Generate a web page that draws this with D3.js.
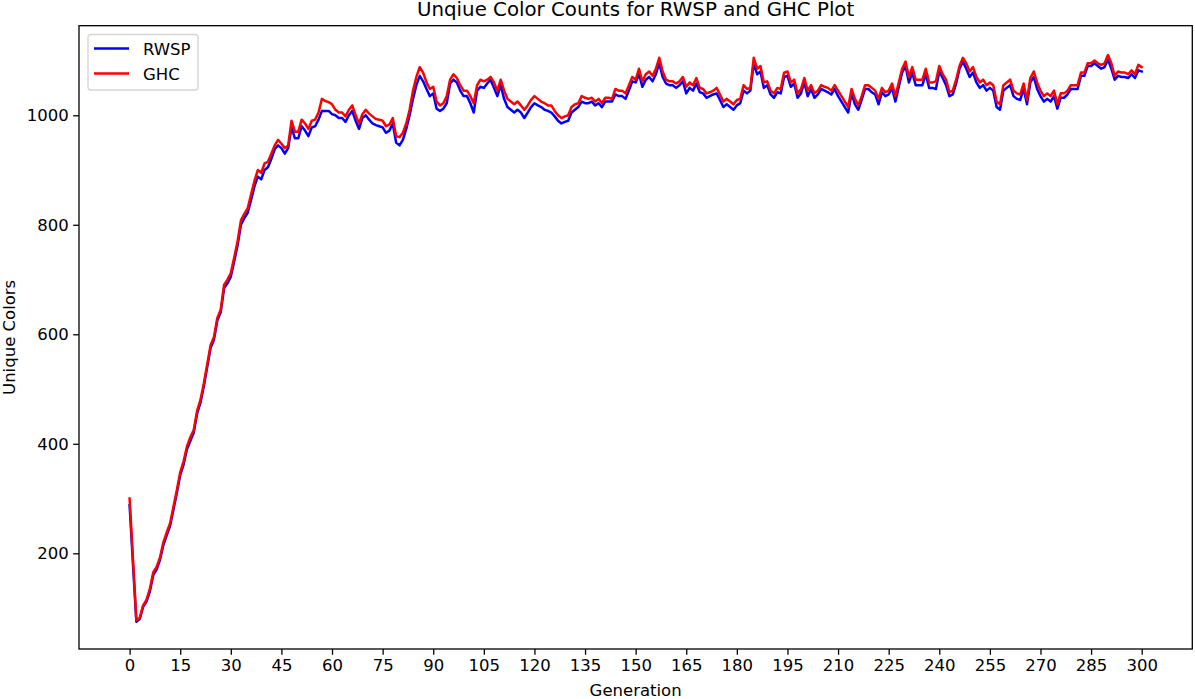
<!DOCTYPE html>
<html><head><meta charset="utf-8">
<script src="https://cdn.jsdelivr.net/npm/d3@7"></script>
<style>body{margin:0;background:#fff;} svg{display:block;} text{font-family:"DejaVu Sans",sans-serif;fill:#000;}</style>
</head><body>
<svg id="chart" width="1195" height="699"></svg>
<script>
const title = "Unqiue Color Counts for RWSP and GHC Plot";
const xLabel = "Generation";
const yLabel = "Unique Colors";
const seriesNames = ["RWSP", "GHC"];
const seriesColors = ["#0000ff", "#ff0000"];
const xTicks = d3.range(0, 301, 15);
const yTicks = [200, 400, 600, 800, 1000];

const rwsp = [288,180,75,80,102,112,130,160,170,188,215,233,250,280,310,343,362,390,405,420,
455,475,505,540,575,590,625,640,684,693,705,733,762,800,812,822,845,870,888,883,
900,905,920,938,945,940,930,940,978,958,958,980,972,962,978,980,992,1008,1008,1008,
1002,1000,995,995,988,1000,1008,990,975,995,1000,992,985,982,980,978,968,972,985,950,
945,955,975,1000,1030,1055,1072,1062,1048,1035,1040,1012,1008,1012,1022,1058,1065,1060,1045,1035,
1035,1022,1005,1045,1052,1050,1058,1065,1050,1035,1055,1030,1015,1010,1005,1010,1005,995,1005,1015,
1022,1018,1015,1010,1008,1005,998,990,985,988,990,1005,1010,1015,1025,1022,1022,1025,1018,1022,
1015,1025,1025,1025,1038,1035,1035,1030,1045,1062,1060,1075,1052,1065,1070,1062,1075,1095,1070,1058,
1055,1055,1050,1055,1062,1040,1050,1045,1058,1042,1040,1032,1035,1038,1040,1028,1015,1020,1015,1010,
1018,1022,1045,1040,1045,1095,1075,1080,1050,1055,1038,1032,1042,1040,1070,1072,1052,1058,1032,1040,
1060,1035,1048,1032,1038,1048,1045,1042,1038,1048,1035,1025,1015,1005,1040,1020,1010,1028,1048,1048,
1042,1038,1020,1042,1035,1038,1050,1025,1052,1078,1090,1060,1078,1055,1055,1055,1075,1050,1050,1048,
1080,1068,1055,1035,1038,1058,1085,1098,1085,1070,1078,1060,1050,1055,1045,1050,1045,1015,1010,1045,
1050,1055,1035,1030,1028,1048,1020,1060,1070,1048,1035,1025,1030,1025,1035,1012,1032,1032,1038,1048,
1048,1048,1072,1072,1090,1090,1095,1090,1085,1088,1102,1085,1065,1072,1070,1070,1068,1075,1068,1082,
1080];

const ghc = [300,190,78,82,105,115,135,165,175,192,220,238,255,285,315,348,368,395,412,425,
460,480,510,545,580,595,630,645,690,700,712,740,770,808,820,830,855,880,900,895,
912,915,930,945,955,948,940,945,990,970,970,992,985,975,990,992,1005,1030,1026,1024,
1020,1010,1005,1005,998,1010,1018,1000,985,1002,1010,1003,998,993,992,990,980,983,995,962,
960,968,985,1010,1045,1070,1088,1078,1060,1048,1052,1025,1018,1022,1035,1065,1075,1068,1055,1045,
1045,1035,1022,1055,1065,1062,1065,1070,1060,1045,1065,1045,1030,1025,1020,1025,1018,1010,1018,1028,
1035,1030,1025,1022,1018,1018,1008,1000,995,998,1000,1015,1020,1022,1035,1032,1030,1032,1025,1030,
1022,1032,1032,1030,1048,1045,1045,1040,1055,1070,1065,1085,1062,1075,1080,1072,1085,1105,1080,1065,
1062,1062,1058,1062,1070,1052,1060,1055,1068,1050,1048,1040,1042,1045,1050,1038,1025,1030,1025,1020,
1028,1030,1055,1048,1050,1105,1085,1090,1060,1062,1045,1040,1050,1048,1078,1080,1060,1065,1040,1048,
1068,1045,1055,1040,1045,1055,1052,1050,1045,1055,1045,1035,1025,1015,1048,1030,1018,1035,1055,1055,
1050,1045,1030,1050,1042,1045,1058,1035,1060,1085,1098,1070,1088,1065,1065,1065,1085,1060,1060,1062,
1090,1075,1065,1042,1045,1065,1090,1105,1095,1080,1088,1070,1060,1065,1055,1060,1055,1025,1020,1055,
1060,1065,1045,1040,1038,1058,1028,1068,1080,1060,1045,1035,1040,1035,1045,1020,1040,1040,1045,1055,
1055,1055,1078,1078,1095,1095,1100,1095,1092,1095,1110,1095,1072,1080,1078,1078,1075,1082,1075,1092,
1088];

const series = [rwsp, ghc];

const svg = d3.select("#chart");
const m = {left: 79, top: 25.7, right: 1192.3, bottom: 649};
const x = d3.scaleLinear().domain([-15, 315]).range([m.left, m.right]);
const y = d3.scaleLinear().domain([25.2, 1163.6]).range([m.bottom, m.top]);

const line = d3.line().x((d, i) => x(i)).y(d => y(d));
const clip = svg.append("clipPath").attr("id", "clip").append("rect")
  .attr("x", m.left).attr("y", m.top).attr("width", m.right - m.left).attr("height", m.bottom - m.top);

series.forEach((s, k) => {
  svg.append("path").datum(s).attr("d", line)
    .attr("fill", "none").attr("stroke", seriesColors[k]).attr("stroke-width", 2.5)
    .attr("stroke-linejoin", "round").attr("stroke-linecap", "square")
    .attr("clip-path", "url(#clip)");
});

// axes
const xAxis = d3.axisBottom(x).tickValues(xTicks).tickSize(5.8).tickPadding(4.5).tickFormat(d3.format("d"));
const gx = svg.append("g").attr("transform", `translate(0,${m.bottom})`).call(xAxis);
const yAxis = d3.axisLeft(y).tickValues(yTicks).tickSize(5.8).tickPadding(4.5).tickFormat(d3.format("d"));
const gy = svg.append("g").attr("transform", `translate(${m.left},0)`).call(yAxis);
[gx, gy].forEach(g => {
  g.select(".domain").remove();
  g.selectAll(".tick line").attr("stroke", "#000").attr("stroke-width", 1.3);
  g.selectAll(".tick text").attr("font-size", "16.5px").attr("font-family", "DejaVu Sans").attr("fill", "#000");
});

svg.append("rect").attr("x", m.left).attr("y", m.top)
  .attr("width", m.right - m.left).attr("height", m.bottom - m.top)
  .attr("fill", "none").attr("stroke", "#000").attr("stroke-width", 1.3);

svg.append("text").attr("x", (m.left + m.right) / 2).attr("y", 16)
  .attr("text-anchor", "middle").attr("font-size", "19.8px").text(title);
svg.append("text").attr("x", (m.left + m.right) / 2).attr("y", 696)
  .attr("text-anchor", "middle").attr("font-size", "16.5px").text(xLabel);
svg.append("text").attr("transform", `translate(15,${(m.top + m.bottom) / 2}) rotate(-90)`)
  .attr("text-anchor", "middle").attr("font-size", "16.5px").text(yLabel);

// legend
const lg = svg.append("g");
lg.append("rect").attr("x", 88).attr("y", 34.5).attr("width", 110).attr("height", 55.5)
  .attr("rx", 3).attr("fill", "#fff").attr("fill-opacity", 0.8).attr("stroke", "#d5d5d5").attr("stroke-width", 1.3);
seriesNames.forEach((n, k) => {
  const yy = 48.5 + k * 25;
  lg.append("line").attr("x1", 94).attr("x2", 129).attr("y1", yy).attr("y2", yy)
    .attr("stroke", seriesColors[k]).attr("stroke-width", 2.5);
  lg.append("text").attr("x", 143).attr("y", yy + 6).attr("font-size", "16.5px").text(n);
});
</script>
</body></html>
